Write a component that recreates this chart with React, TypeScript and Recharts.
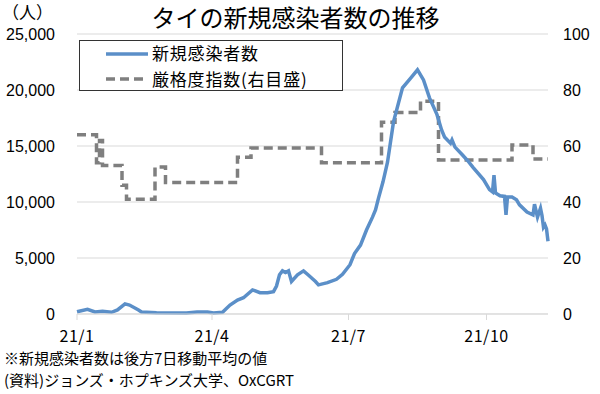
import React from 'react';
import { LineChart, Line, XAxis, YAxis, CartesianGrid } from 'recharts';

// days since 2021-01-01
const caseDays = [
  0, 7, 12, 17, 23, 27, 32, 35, 41, 43, 53, 73, 80, 87, 91, 97, 102, 107, 111, 117,
  122, 127, 131, 133, 135, 137, 139, 141, 143, 147, 151, 154, 159, 161, 167, 173, 177, 182, 185, 189,
  193, 197, 199, 201, 204, 207, 211, 217, 223, 227, 231, 235, 240, 243, 245, 249, 250, 252, 257, 261,
  264, 271, 275, 277, 278, 279, 282, 285, 286, 287, 290, 293, 295, 300, 304, 305, 307, 309, 310, 311,
  312, 313, 314,
];
const caseValues = [
  200, 420, 180, 240, 150, 360, 900, 800, 360, 180, 120, 90, 180, 180, 90, 150, 800, 1250, 1450, 2150,
  1900, 1900, 2000, 2500, 3500, 3850, 3700, 3850, 2900, 3500, 3850, 3500, 2900, 2600, 2800, 3100, 3550, 4400, 5400, 6150,
  7500, 8650, 9300, 10350, 11800, 13550, 17150, 20200, 21150, 21800, 20900, 19300, 17800, 16450, 15800, 15250, 15550, 14900, 14200, 13600,
  13100, 12000, 11100, 10900, 12400, 10800, 10550, 10500, 8850, 10450, 10450, 10200, 9750, 9100, 8850, 9800, 8650, 9450, 8800, 7750,
  7950, 7600, 6500,
];

// stringency index, value holds from each change day
const stringencyDays = [0, 13, 15, 17, 30, 33, 52, 59, 107, 116, 163, 203, 212, 229, 241, 290, 304, 314];
const stringencyValues = [64, 54, 62, 53, 46, 41, 52.5, 47, 56, 59.3, 54, 68.5, 72, 76, 55, 60.4, 55.4, 55.4];

const xTicks = [0, 90, 181, 273];
const xLabels = ['21/1', '21/4', '21/7', '21/10'];
const leftTicks = [0, 5000, 10000, 15000, 20000, 25000];
const rightTicks = [0, 20, 40, 60, 80, 100];

const jpFont = '"Noto Sans CJK JP", "Noto Sans", sans-serif';
const numFont = '"Liberation Sans", Arial, sans-serif';

const allDays = Array.from(new Set([...caseDays, ...stringencyDays])).sort((a, b) => a - b);
const rows = allDays.map(day => {
  const ci = caseDays.indexOf(day);
  const si = stringencyDays.indexOf(day);
  return {
    day,
    cases: ci >= 0 ? caseValues[ci] : null,
    stringency: si >= 0 ? stringencyValues[si] : null,
  };
});

const legendText: React.CSSProperties = {
  position: 'absolute',
  left: 72,
  fontFamily: jpFont,
  fontSize: 17,
  letterSpacing: 0.8,
  lineHeight: '24px',
  color: '#000',
  whiteSpace: 'nowrap',
};

const noteText: React.CSSProperties = {
  position: 'absolute',
  left: 4,
  fontFamily: jpFont,
  fontSize: 15,
  lineHeight: '20px',
  color: '#000',
  whiteSpace: 'nowrap',
};

const App: React.FC = () => {
  return (
    <div style={{ position: 'absolute', left: 0, top: 0, width: 600, height: 394, background: '#fff', overflow: 'hidden' }}>
      <div style={{ position: 'absolute', left: 0, width: 591, top: 2, textAlign: 'center', fontFamily: jpFont, fontSize: 24, lineHeight: '30px', color: '#000' }}>
        タイの新規感染者数の推移
      </div>
      <div style={{ position: 'absolute', left: 2, top: 1, fontFamily: jpFont, fontSize: 17, lineHeight: '22px', color: '#000' }}>
        （人）
      </div>

      <LineChart width={600} height={394} data={rows} margin={{ top: 34, right: 0, left: 0, bottom: 50 }}>
        <CartesianGrid vertical={false} stroke="#d9d9d9" yAxisId="left" />
        <XAxis
          dataKey="day"
          type="number"
          domain={[0, 314]}
          ticks={xTicks}
          tickFormatter={(v: number) => xLabels[xTicks.indexOf(v)] ?? ''}
          height={30}
          axisLine={{ stroke: '#d9d9d9' }}
          tickLine={{ stroke: '#d9d9d9' }}
          tickSize={6}
          tickMargin={11}
          tick={{ fill: '#000', fontSize: 16, fontFamily: jpFont, letterSpacing: 0.5 }}
          interval={0}
        />
        <YAxis
          yAxisId="left"
          domain={[0, 25000]}
          ticks={leftTicks}
          tickFormatter={(v: number) => v.toLocaleString('en-US')}
          width={77}
          axisLine={false}
          tickLine={false}
          tickSize={0}
          tickMargin={22}
          tick={{ fill: '#000', fontSize: 16, fontFamily: numFont }}
          interval={0}
        />
        <YAxis
          yAxisId="right"
          orientation="right"
          domain={[0, 100]}
          ticks={rightTicks}
          width={52}
          axisLine={false}
          tickLine={false}
          tickSize={0}
          tickMargin={15}
          tick={{ fill: '#000', fontSize: 16, fontFamily: numFont }}
          interval={0}
        />
        <Line
          yAxisId="right"
          dataKey="stringency"
          type="stepAfter"
          stroke="#7f7f7f"
          strokeWidth={3.5}
          strokeDasharray="9 5"
          dot={false}
          connectNulls
          isAnimationActive={false}
        />
        <Line
          yAxisId="left"
          dataKey="cases"
          type="linear"
          stroke="#5b8fc8"
          strokeWidth={3.5}
          dot={false}
          connectNulls
          isAnimationActive={false}
        />
      </LineChart>

      {/* legend box */}
      <div style={{ position: 'absolute', left: 79, top: 40, width: 262, height: 49, border: '1px solid #333', background: '#fff' }}>
        <svg width={262} height={49} style={{ position: 'absolute', left: 0, top: 0 }}>
          <line x1={26} y1={13} x2={68} y2={13} stroke="#5b8fc8" strokeWidth={3.5} />
          <line x1={26} y1={38} x2={66} y2={38} stroke="#7f7f7f" strokeWidth={3.5} strokeDasharray="9 5" />
        </svg>
        <div style={{ ...legendText, top: 0 }}>新規感染者数</div>
        <div style={{ ...legendText, top: 26 }}>厳格度指数(右目盛)</div>
      </div>

      <div style={{ ...noteText, top: 348 }}>※新規感染者数は後方7日移動平均の値</div>
      <div style={{ ...noteText, top: 370 }}>(資料)ジョンズ・ホプキンズ大学、OxCGRT</div>
    </div>
  );
};

export default App;
